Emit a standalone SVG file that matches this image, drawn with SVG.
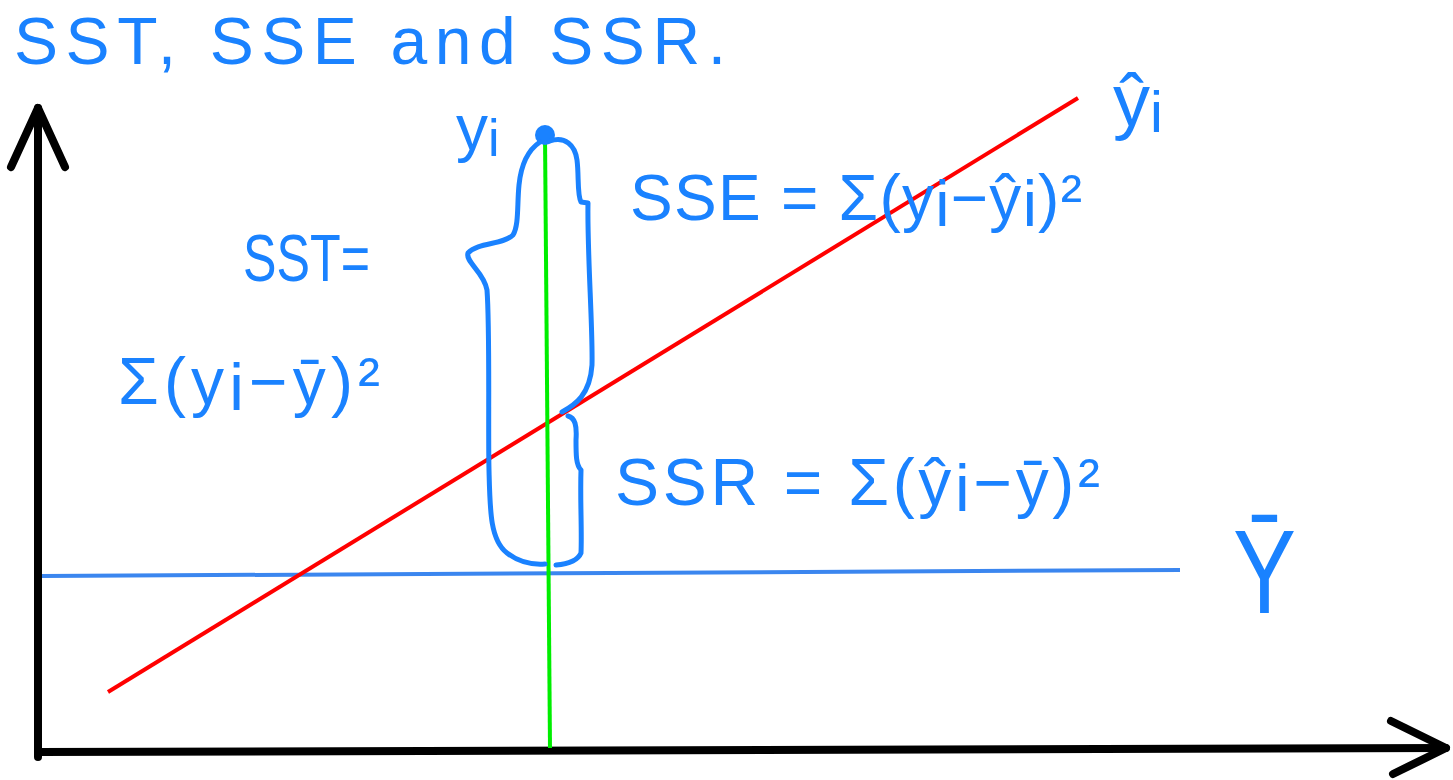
<svg xmlns="http://www.w3.org/2000/svg" width="1453" height="780" viewBox="0 0 1453 780">
<style>
.t{font-family:"Liberation Sans","DejaVu Sans",sans-serif;fill:#1a82ff}
.ax{stroke:#000;stroke-width:8;fill:none;stroke-linecap:round;stroke-linejoin:round}
.br{stroke:#1a82ff;stroke-width:5;fill:none;stroke-linecap:round;stroke-linejoin:round}
</style>
<rect width="1453" height="780" fill="#fff"/>
<g id="axes">
<path class="ax" d="M38 757 L38 108"/>
<path class="ax" d="M11 167 L38 108 L65 167"/>
<path class="ax" d="M38 752 L1446 748"/>
<path class="ax" d="M1391 721 L1446 748 L1393 774"/>
</g>
<g id="lines">
<line id="mean" x1="42" y1="576" x2="1180" y2="570" stroke="#3b86ef" stroke-width="4"/>
<line id="regression" x1="108" y1="692" x2="1078" y2="98" stroke="#ff0000" stroke-width="4"/>
<line id="residual" x1="545" y1="135" x2="550" y2="748" stroke="#00ee00" stroke-width="4"/>
<circle id="point" cx="545" cy="135" r="10" fill="#1a82ff"/>
</g>
<g id="braces">
<path class="br" d="M540 142 C528 150 521 165 519 185 C517 205 519 225 513 235 C503 245 478 242 468 253 C465 262 484 272 487 290 C490 330 488 430 489 470 C490 510 490 540 507 553 C520 563 532 565 545 564"/>
<path class="br" d="M550 141 C565 136 575 145 577 160 C579 175 577 195 581 202 L588 203 C587 250 593 330 592 365 C590 395 575 405 562 412"/>
<path class="br" d="M568 416 C575 418 577 425 576 440 C576 455 576 465 581 470 C580 500 582 530 581 553 C578 560 568 564 556 565"/>
</g>
<g id="title"><text class="t" x="14" y="64" font-size="66" textLength="712" lengthAdjust="spacing">SST, SSE and SSR.</text></g>
<g id="label-yi"><text class="t" x="456" y="150" font-size="64">y<tspan font-size="52" dy="6">i</tspan></text></g>
<g id="label-yhat"><text class="t" x="1113" y="126" font-size="74">ŷ<tspan font-size="58" dy="6">i</tspan></text></g>
<g id="label-ybar"><text class="t" font-size="118" transform="translate(1233 613) scale(0.8 1)">Ȳ</text></g>
<g id="sse"><text class="t" x="630" y="220" font-size="64" textLength="452" lengthAdjust="spacing">SSE = Σ(y<tspan dy="6">i</tspan><tspan dy="-6">−ŷ</tspan><tspan dy="6">i</tspan><tspan dy="-6">)²</tspan></text></g>
<g id="sst"><text class="t" x="243" y="281" font-size="66" textLength="127" lengthAdjust="spacingAndGlyphs">SST=</text>
<text class="t" x="118" y="404" font-size="66" textLength="262" lengthAdjust="spacing">Σ(y<tspan dy="6">i</tspan><tspan dy="-6">−ȳ)²</tspan></text></g>
<g id="ssr"><text class="t" x="615" y="505" font-size="66" textLength="485" lengthAdjust="spacing">SSR = Σ(ŷ<tspan dy="6">i</tspan><tspan dy="-6">−ȳ)²</tspan></text></g>
</svg>
